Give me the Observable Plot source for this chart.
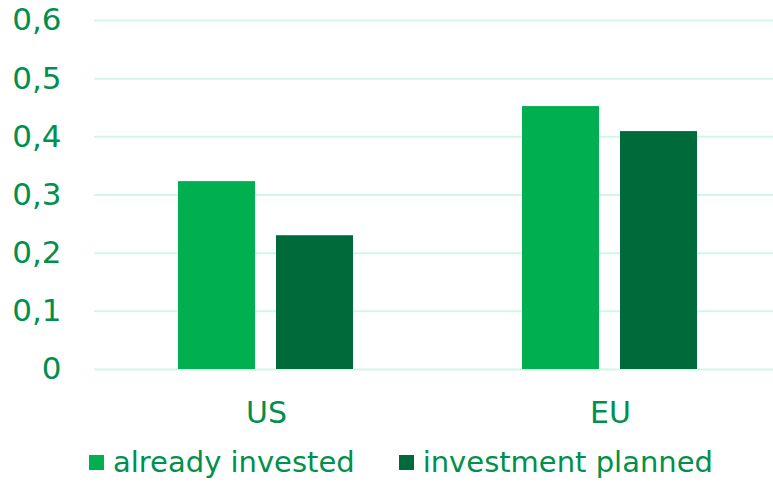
<!DOCTYPE html>
<html><head><meta charset="utf-8">
<script src="https://cdn.jsdelivr.net/npm/d3@7"></script>
<script src="https://cdn.jsdelivr.net/npm/@observablehq/plot@0.6"></script>
<style>
body{margin:0;background:#fff;font-family:"DejaVu Sans",sans-serif;width:773px;height:482px;overflow:hidden;}
#legend{display:flex;align-items:center;height:40px;padding-top:2px;padding-left:89px;color:#00904C;font-size:29px;line-height:34px;}
.item{display:flex;align-items:center;margin-right:44px;}
.sw{width:15px;height:15px;margin-right:9px;}
</style></head><body>
<div id="chart"></div>
<div id="legend"></div>
<script>
const regions = ["US", "EU"];
const series = ["already invested", "investment planned"];
const alreadyInvested = [0.323, 0.452];
const investmentPlanned = [0.230, 0.409];
const yTicks = [0, 0.1, 0.2, 0.3, 0.4, 0.5, 0.6];
const colors = ["#00B050", "#006B3A"];
const textColor = "#00904C";

const data = regions.flatMap((r, i) => [
  {region: r, series: series[0], value: alreadyInvested[i]},
  {region: r, series: series[1], value: investmentPlanned[i]}
]);
const fmt = d => String(d).replace(".", ",");

const chart = Plot.plot({
  width: 773, height: 440,
  marginTop: 20, marginBottom: 71, marginLeft: 94, marginRight: 0,
  style: {fontFamily: "DejaVu Sans, sans-serif", background: "#fff", overflow: "hidden"},
  fx: {domain: regions, range: [94, 782], padding: 0},
  x: {domain: series, paddingInner: 0.214, paddingOuter: 0.862, axis: null},
  y: {domain: [0, 0.6]},
  color: {domain: series, range: colors},
  marks: [
    Plot.gridY(yTicks, {stroke: "#CFF8E6", strokeOpacity: 1, strokeWidth: 2}),
    Plot.barY(data, {fx: "region", x: "series", y: "value", fill: "series"}),
    Plot.axisY(yTicks, {tickSize: 0, tickPadding: 33, fontSize: 31, fill: textColor, tickFormat: fmt, label: null}),
    Plot.axisFx({anchor: "bottom", tickSize: 0, tickPadding: 32, fontSize: 30, fill: textColor, label: null})
  ]
});
document.getElementById("chart").appendChild(chart);

const legend = document.getElementById("legend");
series.forEach((s, i) => {
  const it = document.createElement("div");
  it.className = "item";
  const sw = document.createElement("span");
  sw.className = "sw";
  sw.style.background = colors[i];
  const t = document.createElement("span");
  t.textContent = s;
  it.appendChild(sw); it.appendChild(t);
  legend.appendChild(it);
});
</script>
</body></html>
